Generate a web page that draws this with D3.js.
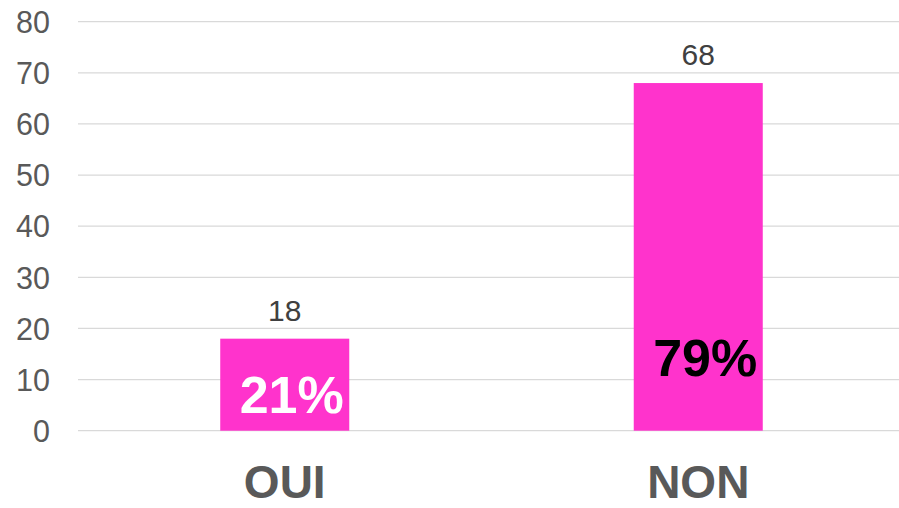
<!DOCTYPE html>
<html><head><meta charset="utf-8">
<script src="https://cdn.jsdelivr.net/npm/d3@7"></script>
<style>body{margin:0;background:#fff}svg{display:block}</style>
</head><body>
<svg id="c" width="899" height="508"></svg>
<script>
const categories = ["OUI", "NON"];
const values = [18, 68];
const percents = ["21%", "79%"];
const yTicks = [0, 10, 20, 30, 40, 50, 60, 70, 80];

const svg = d3.select("#c");
const font = "'Liberation Sans', Arial, sans-serif";
const x = d3.scaleBand().domain(categories).range([78, 905]).paddingInner(0.688).paddingOuter(0.344);
const y = d3.scaleLinear().domain([0, 80]).range([430.7, 21.7]);

// gridlines
svg.append("g").selectAll("line").data(yTicks).join("line")
  .attr("x1", 78).attr("x2", 899)
  .attr("y1", d => y(d)).attr("y2", d => y(d))
  .attr("stroke", "#d9d9d9").attr("stroke-width", 1.3);

// y axis labels
const yAxis = d3.axisLeft(y).tickValues(yTicks).tickSize(0).tickPadding(0);
const ga = svg.append("g").attr("transform", "translate(50,0)").call(yAxis);
ga.select(".domain").remove();
ga.selectAll("text").attr("font-family", font).attr("font-size", 30.5).attr("fill", "#595959").attr("dy", "0.35em");

// bars
svg.append("g").selectAll("rect").data(values).join("rect")
  .attr("x", (d, i) => x(categories[i]))
  .attr("width", x.bandwidth())
  .attr("y", d => y(d))
  .attr("height", d => y(0) - y(d))
  .attr("fill", "#ff33cc");

// value labels
svg.append("g").selectAll("text").data(values).join("text")
  .attr("x", (d, i) => x(categories[i]) + x.bandwidth() / 2)
  .attr("y", d => y(d) - 18)
  .attr("text-anchor", "middle")
  .attr("font-family", font).attr("font-size", 30).attr("fill", "#404040")
  .text(d => d);

// percent labels
const pctY = [413, 376];
const pctCol = ["#ffffff", "#000000"];
svg.append("g").selectAll("text").data(percents).join("text")
  .attr("x", (d, i) => x(categories[i]) + x.bandwidth() / 2 + 7)
  .attr("y", (d, i) => pctY[i])
  .attr("text-anchor", "middle")
  .attr("font-family", font).attr("font-size", 52).attr("font-weight", "bold")
  .attr("fill", (d, i) => pctCol[i])
  .text(d => d);

// category labels
svg.append("g").selectAll("text").data(categories).join("text")
  .attr("x", d => x(d) + x.bandwidth() / 2)
  .attr("y", 498)
  .attr("text-anchor", "middle")
  .attr("font-family", font).attr("font-size", 46).attr("font-weight", "bold").attr("fill", "#595959")
  .text(d => d);
</script>
</body></html>
